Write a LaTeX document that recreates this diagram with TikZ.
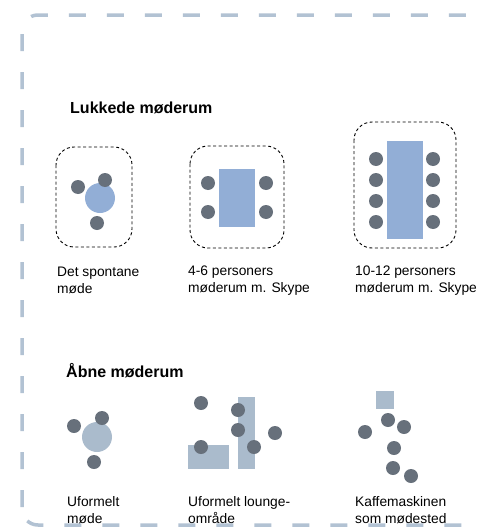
\documentclass[tikz,border=0pt]{standalone}
\usepackage{fontspec}
\setmainfont{Liberation Sans}
\usepackage{tikz}
\definecolor{chair}{RGB}{103,112,123}
\definecolor{tableblue}{RGB}{146,174,214}
\definecolor{openblue}{RGB}{170,187,204}
\definecolor{frameblue}{RGB}{178,194,211}

\begin{document}
\begin{tikzpicture}[x=1pt,y=-1pt,
    chair/.style={circle,fill=chair,inner sep=0pt,minimum size=14pt},
    roombox/.style={draw=black,line width=0.9pt,dash pattern=on 3pt off 2.5pt,rounded corners=18pt},
    lbl/.style={anchor=base west,align=left,inner sep=0pt,font=\fontsize{13.8}{16.5}\selectfont},
    head/.style={anchor=base west,inner sep=0pt,font=\fontsize{16}{19}\selectfont\bfseries}]
    \useasboundingbox (0,0) rectangle (477,530);
    % outer frame
    \draw[frameblue,line width=3.5pt,dash pattern=on 17pt off 21pt,dash phase=-2pt,rounded corners=16pt] (22,525) -- (22,15) -- (492,15) -- (492,525) -- cycle;

    \node[head] (hclosed) at (70,113) {Lukkede møderum};
    % det spontane moede
    \draw[roombox] (56,147) rectangle (132,247);
    \fill[tableblue] (100,198) circle (15);
    \node[chair] (s1) at (78,187) {};
    \node[chair] (s2) at (105,180) {};
    \node[chair] (s3) at (97,223) {};
    \node[lbl] (lspont) at (57,293) {Det spontane\\møde};
    % 4-6 personer
    \draw[roombox] (190,146) rectangle (284,248);
    \fill[tableblue] (219,169) rectangle (255,227);
    \foreach \y [count=\i] in {183,212}{
      \node[chair] (m\i a) at (208,\y) {};
      \node[chair] (m\i b) at (266,\y) {};
    }
    \node[lbl] (lsmall) at (188,292) {4-6 personers\\møderum m. Skype};
    % 10-12 personer
    \draw[roombox] (354,122) rectangle (456,248);
    \fill[tableblue] (387,141) rectangle (423,239);
    \foreach \y [count=\i] in {159,180,201,222}{
      \node[chair] (b\i a) at (376,\y) {};
      \node[chair] (b\i b) at (433,\y) {};
    }
    \node[lbl] (lbig) at (355,292) {10-12 personers\\møderum m. Skype};

    \node[head] (hopen) at (66,377) {Åbne møderum};
    % uformelt moede
    \fill[openblue] (97,437) circle (15);
    \node[chair] (u1) at (74,426) {};
    \node[chair] (u2) at (102,418) {};
    \node[chair] (u3) at (94,462) {};
    \node[lbl] (luform) at (67,523) {Uformelt\\møde};
    % lounge
    \fill[openblue] (188,445) rectangle (229,469);
    \fill[openblue] (238,397) rectangle (255,469);
    \node[chair] (o1) at (201,403) {};
    \node[chair] (o2) at (238,410) {};
    \node[chair] (o3) at (238,430) {};
    \node[chair] (o4) at (275,433) {};
    \node[chair] (o5) at (254,447) {};
    \node[chair] (o6) at (201,447) {};
    \node[lbl] (llounge) at (188,523) {Uformelt lounge-\\område};
    % kaffemaskinen
    \fill[openblue] (376,391) rectangle (394,409);
    \node[chair] (k1) at (388,420) {};
    \node[chair] (k2) at (404,427) {};
    \node[chair] (k3) at (365,432) {};
    \node[chair] (k4) at (394,448) {};
    \node[chair] (k5) at (393,468) {};
    \node[chair] (k6) at (411,476) {};
    \node[lbl] (lkaffe) at (355,523) {Kaffemaskinen\\som mødested};
  \end{tikzpicture}
\end{document}
